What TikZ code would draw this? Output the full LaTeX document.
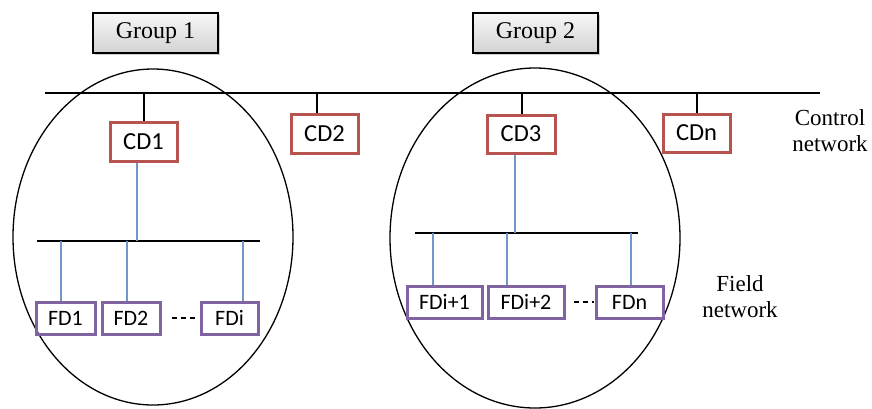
\documentclass[tikz,border=0pt]{standalone}
\usepackage{fontspec}
\setmainfont{Liberation Serif}
\newfontfamily\calfont{Carlito}
\usetikzlibrary{shadows}
\definecolor{cdred}{HTML}{B85450}
\definecolor{fdpurple}{HTML}{8064A2}
\definecolor{lnblue}{HTML}{7096CC}
\begin{document}
\begin{tikzpicture}[x=1pt,y=-1pt,
  cdbox/.style={draw=cdred, line width=3pt, inner sep=0pt, font=\calfont\fontsize{24.5}{28}\selectfont},
  fdbox/.style={draw=fdpurple, line width=3pt, inner sep=0pt, minimum height=32pt, font=\calfont\fontsize{22}{26}\selectfont},
  grpbox/.style={draw=black, line width=1.2pt, top color=gray!6, bottom color=gray!35, minimum width=125pt, minimum height=40pt, inner sep=0pt, drop shadow={shadow xshift=1.5pt, shadow yshift=-1.5pt, opacity=0.4}, font=\fontsize{24}{28}\selectfont},
  busline/.style={draw=black, line width=1.5pt},
  bluelink/.style={draw=lnblue, line width=1.6pt},
  grpline/.style={draw=black, line width=1.3pt},
  lbl/.style={align=center, font=\fontsize{23}{26}\selectfont}]
\useasboundingbox (0,0) rectangle (872,408);

% groups (ellipses)
\draw[grpline] (153,237) ellipse [x radius=140, y radius=168];
\draw[grpline] (535,238) ellipse [x radius=145, y radius=170];

% group labels
\node[grpbox] (g1) at (155.5,33) {Group 1};
\node[grpbox] (g2) at (535.5,33) {Group 2};

% control bus
\coordinate (busL) at (45,93);
\coordinate (busR) at (820,93);
\draw[busline] (busL) -- (busR);

% control devices
\node[cdbox, minimum width=67pt, minimum height=39pt] (CD1) at (143.5,141.5) {CD1};
\node[cdbox, minimum width=67pt, minimum height=39pt] (CD2) at (324.5,133.5) {CD2};
\node[cdbox, minimum width=68pt, minimum height=38pt] (CD3) at (521,134) {CD3};
\node[cdbox, minimum width=67pt, minimum height=38pt] (CDn) at (696.5,133) {CDn};

\draw[busline] ([xshift=0.5pt]CD1.north) -- ([xshift=0.5pt]CD1.north |- busL);
\draw[busline] ([xshift=-7.5pt]CD2.north) -- ([xshift=-7.5pt]CD2.north |- busL);
\draw[busline] ([xshift=1pt]CD3.north) -- ([xshift=1pt]CD3.north |- busL);
\draw[busline] ([xshift=0.5pt]CDn.north) -- ([xshift=0.5pt]CDn.north |- busL);

% field bus 1
\coordinate (fbAL) at (37,241);
\coordinate (fbAR) at (260,241);
\draw[busline] (fbAL) -- (fbAR);
\draw[bluelink] ([xshift=-6.5pt]CD1.south) -- ([xshift=-6.5pt]CD1.south |- fbAL);

\node[fdbox, minimum width=59pt] (FD1) at (65.5,318) {FD1};
\node[fdbox, minimum width=58pt] (FD2) at (131,318) {FD2};
\node[fdbox, minimum width=57pt] (FDi) at (229.5,318) {FDi};
\draw[bluelink] ([xshift=-4.5pt]FD1.north) -- ([xshift=-4.5pt]FD1.north |- fbAL);
\draw[bluelink] ([xshift=-4pt]FD2.north) -- ([xshift=-4pt]FD2.north |- fbAL);
\draw[bluelink] ([xshift=13.5pt]FDi.north) -- ([xshift=13.5pt]FDi.north |- fbAL);
\draw[line width=1.4pt, dash pattern=on 5pt off 4pt, shorten <=10pt, shorten >=4pt] (FD2.east) -- (FDi.west);

% field bus 2
\coordinate (fbBL) at (415,233);
\coordinate (fbBR) at (638,233);
\draw[busline] (fbBL) -- (fbBR);
\draw[bluelink] ([xshift=-6pt]CD3.south) -- ([xshift=-6pt]CD3.south |- fbBL);

\node[fdbox, minimum width=75pt] (FDa) at (444.5,302) {FDi+1};
\node[fdbox, minimum width=76pt] (FDb) at (526,302) {FDi+2};
\node[fdbox, minimum width=67pt] (FDn) at (629.5,302) {FDn};
\draw[bluelink] ([xshift=-11.5pt]FDa.north) -- ([xshift=-11.5pt]FDa.north |- fbBL);
\draw[bluelink] ([xshift=-19pt]FDb.north) -- ([xshift=-19pt]FDb.north |- fbBL);
\draw[bluelink] ([xshift=1.5pt]FDn.north) -- ([xshift=1.5pt]FDn.north |- fbBL);
\draw[line width=1.4pt, dash pattern=on 5pt off 4pt, shorten <=8pt, shorten >=1pt] (FDb.east) -- (FDn.west);

% labels
\node[lbl] (ctl) at (830,131) {Control\\network};
\node[lbl] (fld) at (740,297) {Field\\network};
\end{tikzpicture}
\end{document}
